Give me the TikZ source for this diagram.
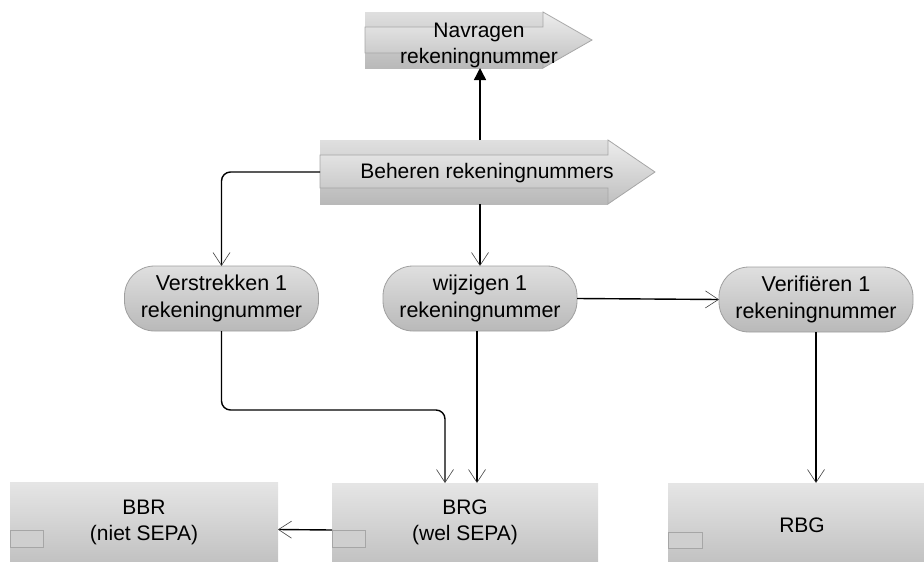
\documentclass[tikz,border=0pt]{standalone}
\usepackage{fontspec}
\setmainfont{Liberation Sans}
\usetikzlibrary{arrows.meta}
\tikzset{
  txt/.style={font=\fontsize{21}{26}\selectfont, align=center, inner sep=0pt},
  blk/.style={inner sep=0pt, outer sep=0pt},
  arrowbody/.style={draw=gray!70, line width=0.8pt, top color=gray!14, bottom color=gray!50},
  backdrop/.style={top color=gray!25, bottom color=gray!55},
  pill/.style={draw=gray!75, line width=0.8pt, rounded corners=30pt,
    minimum width=194pt, minimum height=65pt, inner sep=0pt, outer sep=0pt,
    top color=gray!25, bottom color=gray!55, align=center,
    font=\fontsize{21.5}{27}\selectfont},
  sysbox/.style={top color=gray!20, bottom color=gray!48, inner sep=0pt, outer sep=0pt,
    align=center, font=\fontsize{21}{26}\selectfont},
  tabrect/.style={draw=gray!70, line width=0.6pt, fill=gray!38},
  conn/.style={line width=1.4pt, -{Straight Barb[length=13pt,width=17pt,line width=0.6pt,color=black!75]}},
  upconn/.style={line width=1.4pt, -{Triangle[length=12pt,width=12pt]}}
}
\begin{document}
\begin{tikzpicture}[x=1pt,y=-1pt]
\useasboundingbox (0,0) rectangle (924,562);

% Navragen arrow
\fill[backdrop] (365,12) rectangle (543,68);
\draw[arrowbody] (365,27) -- (543,27) -- (543,12) -- (592,40) -- (543,68) -- (543,53) -- (365,53) -- cycle;
\node[blk, minimum width=227pt, minimum height=56pt] (nav) at (478.5,40) {};
\node[txt] (navtxt) at (479,45) {Navragen\\rekeningnummer};

% Beheren arrow
\fill[backdrop] (320,140) rectangle (608,204);
\draw[arrowbody] (320,155) -- (608,155) -- (608,140) -- (655,172) -- (608,204) -- (608,188) -- (320,188) -- cycle;
\node[blk, minimum width=335pt, minimum height=64pt] (beh) at (487.5,172) {};
\node[txt] (behtxt) at (487,173) {Beheren rekeningnummers};

% pills
\node[pill] (ver) at (221.5,298.5) {Verstrekken 1\\rekeningnummer};
\node[pill] (wij) at (480,298.5) {wijzigen 1\\rekeningnummer};
\node[pill] (vrf) at (816,299.5) {Verifiëren 1\\rekeningnummer};

% bottom boxes
\node[sysbox, minimum width=268pt, minimum height=80pt] (bbr) at (144,522) {BBR\\(niet SEPA)};
\node[sysbox, minimum width=266pt, minimum height=79pt] (brg) at (465,522.5) {BRG\\(wel SEPA)};
\node[sysbox, minimum width=256pt, minimum height=79pt] (rbg) at (796,522.5) {};
\node[txt] (rbgtxt) at (802,525) {RBG};
\draw[tabrect] (10,530) rectangle (43,547);
\draw[tabrect] (332,530) rectangle (365,547);
\draw[tabrect] (668,532) rectangle (702,548);

% connectors
\coordinate (j1) at (445,410);
\draw[upconn] (wij.north |- beh.north) -- (wij.north |- nav.south);
\draw[conn, rounded corners=9pt] (beh.west) -| (ver.north);
\draw[conn] (wij.north |- beh.south) -- (wij.north);
\draw[conn] (wij.east) -- (vrf.west);
\draw[conn, rounded corners=9pt] (ver.south) |- (j1) -- (j1 |- brg.north);
\draw[conn] ([xshift=-3pt]wij.south) -- ([xshift=-3pt]wij.south |- brg.north);
\draw[conn] ([yshift=-7.5pt]brg.west) -- ([yshift=-7.5pt]bbr.east);
\draw[conn] (vrf.south) -- (vrf.south |- rbg.north);
\end{tikzpicture}
\end{document}
